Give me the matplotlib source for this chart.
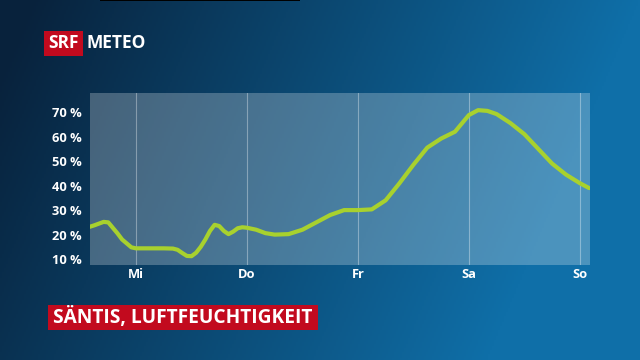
import numpy as np
import matplotlib
matplotlib.use('Agg')
import matplotlib.pyplot as plt
from matplotlib.patches import Rectangle

# --- Data: relative humidity (%) at Säntis, hours from Wednesday 00:00 ---
hours = [-10, -9, -7, -6, -4, -3, -1, 0, 3, 6, 8, 9, 10, 11, 12, 13, 14, 15, 16,
         17, 18, 19, 20, 21, 22, 23, 24, 26, 28, 30, 33, 36, 39, 42, 45, 48, 51,
         54, 57, 60, 63, 66, 69, 72, 74, 76, 78, 81, 84, 87, 90, 93, 96, 98]
humidity = [23.2, 23.8, 25.2, 25.0, 20.5, 18.0, 14.8, 14.4, 14.4, 14.4, 14.3, 13.8,
            12.5, 11.3, 11.2, 12.6, 15.0, 18.0, 21.5, 24.0, 23.5, 21.5, 20.2, 21.2,
            22.6, 23.0, 22.8, 22.0, 20.6, 20.0, 20.2, 22.0, 25.0, 28.0, 30.0, 30.0,
            30.3, 34.0, 41.0, 48.5, 55.5, 59.2, 62.0, 68.8, 70.8, 70.5, 69.2, 65.5,
            61.0, 55.0, 49.0, 44.5, 41.0, 39.0]
day_ticks = [0, 24, 48, 72, 96]
day_labels = ['Mi', 'Do', 'Fr', 'Sa', 'So']
y_ticks = [10, 20, 30, 40, 50, 60, 70]
y_labels = ['10 %', '20 %', '30 %', '40 %', '50 %', '60 %', '70 %']

FONT = 'Open Sans'
RED = '#c20a1e'
LINE = '#a8d12e'

fig = plt.figure(figsize=(6.4, 3.6), dpi=100)

# --- background gradient ---
bg = fig.add_axes([0, 0, 1, 1])
gx, gy = np.meshgrid(np.linspace(0, 1, 320), np.linspace(0, 1, 180))
t = np.clip(1.05 * gx + 0.25 * gy - 0.05, 0, 1)
dark = np.array([8, 34, 60]) / 255
light = np.array([15, 111, 168]) / 255
img = dark[None, None, :] * (1 - t[..., None]) + light[None, None, :] * t[..., None]
bg.imshow(img, extent=[0, 1, 0, 1], aspect='auto', origin='upper')
bg.set_xlim(0, 1)
bg.set_ylim(0, 1)
bg.axis('off')

# thin black strip at the top
bg.add_patch(Rectangle((100 / 640, 1 - 1 / 360), 200 / 640, 1 / 360, color='black', lw=0))

# --- chart panel ---
ax = fig.add_axes([90 / 640, 95 / 360, 500 / 640, 172 / 360])
ax.patch.set_facecolor((1, 1, 1, 0.25))
for x in day_ticks:
    ax.axvline(x, color='white', alpha=0.35, lw=0.8, zorder=1)
ax.plot(hours, humidity, color=LINE, lw=3.0, solid_capstyle='round',
        solid_joinstyle='round', zorder=3)
ax.set_xlim(-9.95, 98.2)
ax.set_ylim(7.6, 77.8)
ax.set_xticks(day_ticks)
ax.set_xticklabels(day_labels)
ax.set_yticks(y_ticks)
ax.set_yticklabels(y_labels)
ax.tick_params(length=0, colors='white', labelsize=9.3, pad=6)
ax.tick_params(axis='x', pad=2)
for lab in ax.get_xticklabels() + ax.get_yticklabels():
    lab.set_fontfamily(FONT)
    lab.set_fontweight('bold')
for s in ax.spines.values():
    s.set_visible(False)

# --- SRF METEO logo ---
fig.patches.append(Rectangle((44 / 640, 1 - 56 / 360), 39 / 640, 25 / 360,
                             transform=fig.transFigure, color=RED, lw=0))
fig.text(63.5 / 640, 1 - 43.5 / 360, 'SRF', color='white', fontsize=12.5,
         fontweight='bold', family=FONT, ha='center', va='center')
fig.text(86 / 640, 1 - 43.5 / 360, 'METEO', color='white', fontsize=12.5,
         fontweight='bold', family=FONT, ha='left', va='center')

# --- title box ---
fig.patches.append(Rectangle((48 / 640, 1 - 330 / 360), 270 / 640, 25 / 360,
                             transform=fig.transFigure, color=RED, lw=0))
fig.text(183 / 640, 1 - 317.5 / 360, 'SÄNTIS, LUFTFEUCHTIGKEIT', color='white',
         fontsize=13.8, fontweight='bold', family=FONT, ha='center', va='center')

fig.savefig('out.png', dpi=100)
